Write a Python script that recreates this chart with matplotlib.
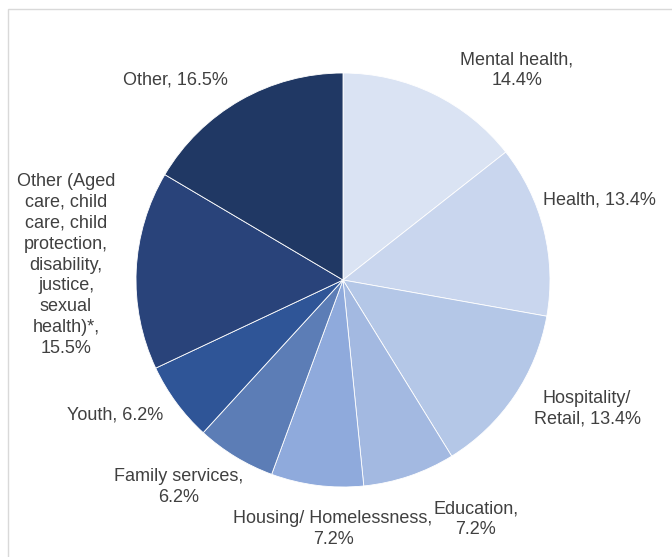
import matplotlib
matplotlib.use("Agg")
import matplotlib.pyplot as plt
from matplotlib.patches import Rectangle

plt.rcParams['font.family'] = ['Liberation Sans', 'DejaVu Sans']

# Sectors of work, in drawing order (clockwise from 12 o'clock)
categories = [
    "Mental health", "Health", "Hospitality/\nRetail", "Education",
    "Housing/ Homelessness", "Family services", "Youth",
    "Other (Aged\ncare, child\ncare, child\nprotection,\ndisability,\njustice,\nsexual\nhealth)*",
    "Other",
]
shares = [14.4, 13.4, 13.4, 7.2, 7.2, 6.2, 6.2, 15.5, 16.5]
colors = ["#DAE3F3", "#C9D6EE", "#B4C7E7", "#A3B9E1", "#8FAADC",
          "#5C7DB6", "#2F5597", "#29437A", "#203864"]

# label text templates (how each "name, value" pair is broken over lines)
label_fmt = [
    "{name},\n{val}%", "{name}, {val}%", "{name}, {val}%", "{name},\n{val}%",
    "{name},\n{val}%", "{name},\n{val}%", "{name}, {val}%", "{name},\n{val}%",
    "{name}, {val}%",
]
# label anchor positions in figure pixels (x, y from top) and alignment
label_pos = [(517, 70, "center"), (543, 200, "left"), (587, 409, "center"),
             (476, 519, "center"), (333, 529, "center"), (179, 487, "center"),
             (67, 415, "left"), (66, 265, "center"), (123, 80, "left")]

W, H = 672, 557
fig = plt.figure(figsize=(W / 100, H / 100), dpi=100)

# light chart-area border
fig.patches.append(Rectangle((8 / W, -0.1), 1.2, 1 - 9 / H + 0.1,
                             transform=fig.transFigure, fill=False,
                             edgecolor="#D9D9D9", linewidth=1.0))

cx, cy, r = 343, 280, 207
ax = fig.add_axes([(cx - r) / W, (H - cy - r) / H, 2 * r / W, 2 * r / H])
ax.pie(shares, colors=colors, startangle=90, counterclock=False, radius=1,
       wedgeprops=dict(edgecolor="white", linewidth=0.6))
ax.set_xlim(-1, 1)
ax.set_ylim(-1, 1)
ax.set_aspect("equal")
ax.axis("off")

for name, val, fmt, (px, py, ha) in zip(categories, shares, label_fmt, label_pos):
    fig.text(px / W, 1 - py / H, fmt.format(name=name, val=val),
             ha=ha, va="center", fontsize=13, color="#404040",
             linespacing=1.3, multialignment="center")

fig.savefig("out.png", dpi=100, facecolor="white")
